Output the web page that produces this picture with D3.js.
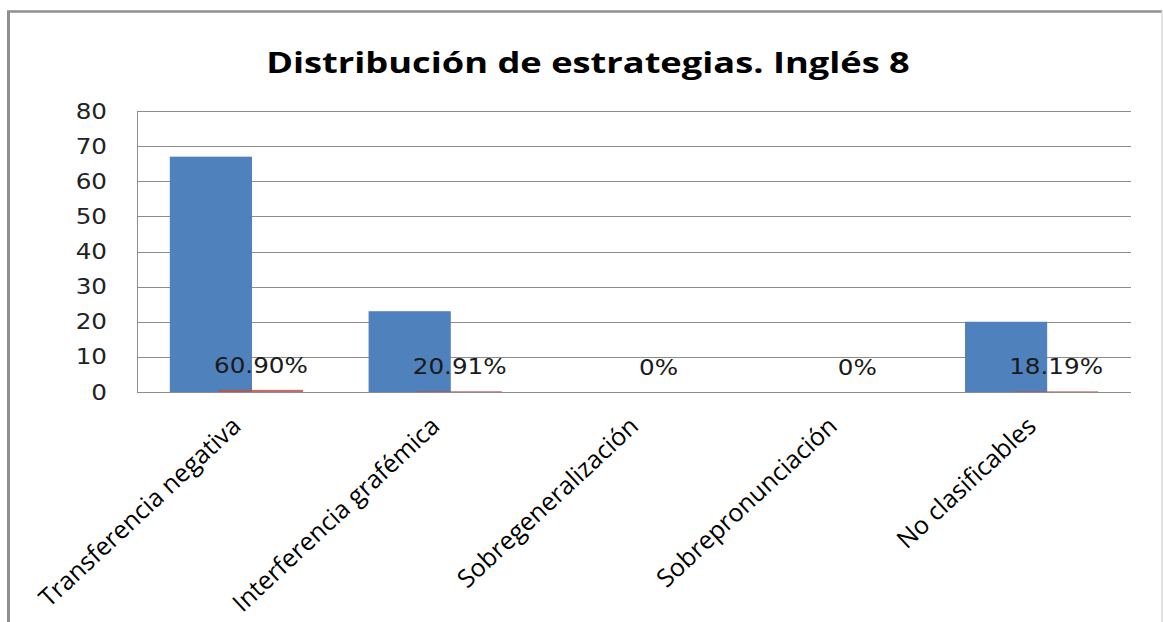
<!DOCTYPE html>
<html>
  <head>
    <meta charset="utf-8">
    <title>Distribución de estrategias. Inglés 8</title>
    <script src="https://d3js.org/d3.v7.min.js"></script>
    <style>
      body { margin: 0; background: #fff; }
      svg { display: block; }
    </style>
  </head>
  <body>
    <div id="chart"></div>
    <script>
    // chart values
    const categories = ["Transferencia negativa", "Interferencia grafémica", "Sobregeneralización", "Sobrepronunciación", "No clasificables"];
    const counts = [67, 23, 0, 0, 20];
    const shares = [0.609, 0.2091, 0, 0, 0.1819];
    const shareLabels = ["60.90%", "20.91%", "0%", "0%", "18.19%"];
    const yTicks = [0, 10, 20, 30, 40, 50, 60, 70, 80];

    const W = 1163, H = 622;
    const margin = {top: 111, right: 32, bottom: 230, left: 137};
    const width = W - margin.left - margin.right,
          height = H - margin.top - margin.bottom;
    const stretch = 1.12; // the original picture is a bit wider than tall

    const svg = d3.select("#chart").append("svg")
      .attr("width", W)
      .attr("height", H);

    // outer frame
    svg.append("line").attr("x1", 8.5).attr("y1", 11).attr("x2", 8.5).attr("y2", H)
      .attr("stroke", "#8f8f8f").attr("stroke-width", 3);
    svg.append("line").attr("x1", 7).attr("y1", 11.5).attr("x2", 1162).attr("y2", 11.5)
      .attr("stroke", "#8f8f8f").attr("stroke-width", 2.5);
    svg.append("line").attr("x1", 1162).attr("y1", 11).attr("x2", 1162).attr("y2", H)
      .attr("stroke", "#d9d9d9").attr("stroke-width", 1.5);

    svg.append("text")
      .attr("transform", "translate(588,73) scale(1.25,1)")
      .attr("text-anchor", "middle")
      .style("font-family", "'Open Sans', sans-serif")
      .style("font-weight", "bold")
      .style("font-size", "29px")
      .style("fill", "#000")
      .text("Distribución de estrategias. Inglés 8");

    const g = svg.append("g")
      .attr("transform", `translate(${margin.left},${margin.top})`);

    const x = d3.scaleBand()
      .domain(categories)
      .range([0, width])
      .paddingInner(0.33)
      .paddingOuter(0.165);

    const y = d3.scaleLinear()
      .domain([0, 80])
      .range([height, 0]);

    // gridlines
    g.append("g")
      .selectAll("line")
      .data(yTicks)
      .join("line")
      .attr("x1", 0)
      .attr("x2", width)
      .attr("y1", d => Math.round(y(d)) + 0.5)
      .attr("y2", d => Math.round(y(d)) + 0.5)
      .attr("stroke", "#8c8c8c")
      .attr("stroke-width", 1);

    const yAxis = g.append("g")
      .call(d3.axisLeft(y).tickValues(yTicks).tickSize(0).tickPadding(0));
    yAxis.select(".domain").attr("stroke", "#8c8c8c");
    yAxis.selectAll("text")
      .attr("x", null)
      .attr("transform", `translate(-30,0) scale(${stretch},1)`)
      .style("font-family", "'DejaVu Sans', sans-serif")
      .style("font-size", "22px")
      .style("fill", "#222");

    const bw = x.bandwidth();
    const blueW = bw * 0.617, redOff = bw * 0.368;

    g.selectAll(".count")
      .data(categories)
      .join("rect")
      .attr("class", "count")
      .attr("x", d => x(d))
      .attr("width", blueW)
      .attr("y", (d, i) => y(counts[i]))
      .attr("height", (d, i) => height - y(counts[i]))
      .attr("fill", "#4f81bd");

    g.selectAll(".share")
      .data(categories)
      .join("rect")
      .attr("class", "share")
      .attr("x", d => x(d) + redOff)
      .attr("width", bw - redOff)
      .attr("y", (d, i) => y(shares[i]))
      .attr("height", (d, i) => height - y(shares[i]))
      .attr("fill", "#c0504d")
      .attr("opacity", 0.85);

    g.selectAll(".share-label")
      .data(categories)
      .join("text")
      .attr("class", "share-label")
      .attr("transform", (d, i) => `translate(${x(d) + redOff + (bw - redOff) / 2},${y(shares[i]) - 17}) scale(${stretch},1)`)
      .attr("text-anchor", "middle")
      .style("font-family", "'DejaVu Sans', sans-serif")
      .style("font-size", "22px")
      .style("fill", "#1a1a1a")
      .text((d, i) => shareLabels[i]);

    // x axis line
    g.append("line")
      .attr("x1", 0).attr("x2", width)
      .attr("y1", height + 0.5).attr("y2", height + 0.5)
      .attr("stroke", "#8c8c8c");

    g.selectAll(".cat")
      .data(categories)
      .join("text")
      .attr("class", "cat")
      .attr("text-anchor", "end")
      .attr("transform", d => `translate(${x(d) + bw / 2 + 6},${height + 36}) rotate(-43)`)
      .style("font-family", "'Open Sans', sans-serif")
      .style("font-size", "25px")
      .style("fill", "#000")
      .text(d => d);
    </script>
  </body>
</html>
